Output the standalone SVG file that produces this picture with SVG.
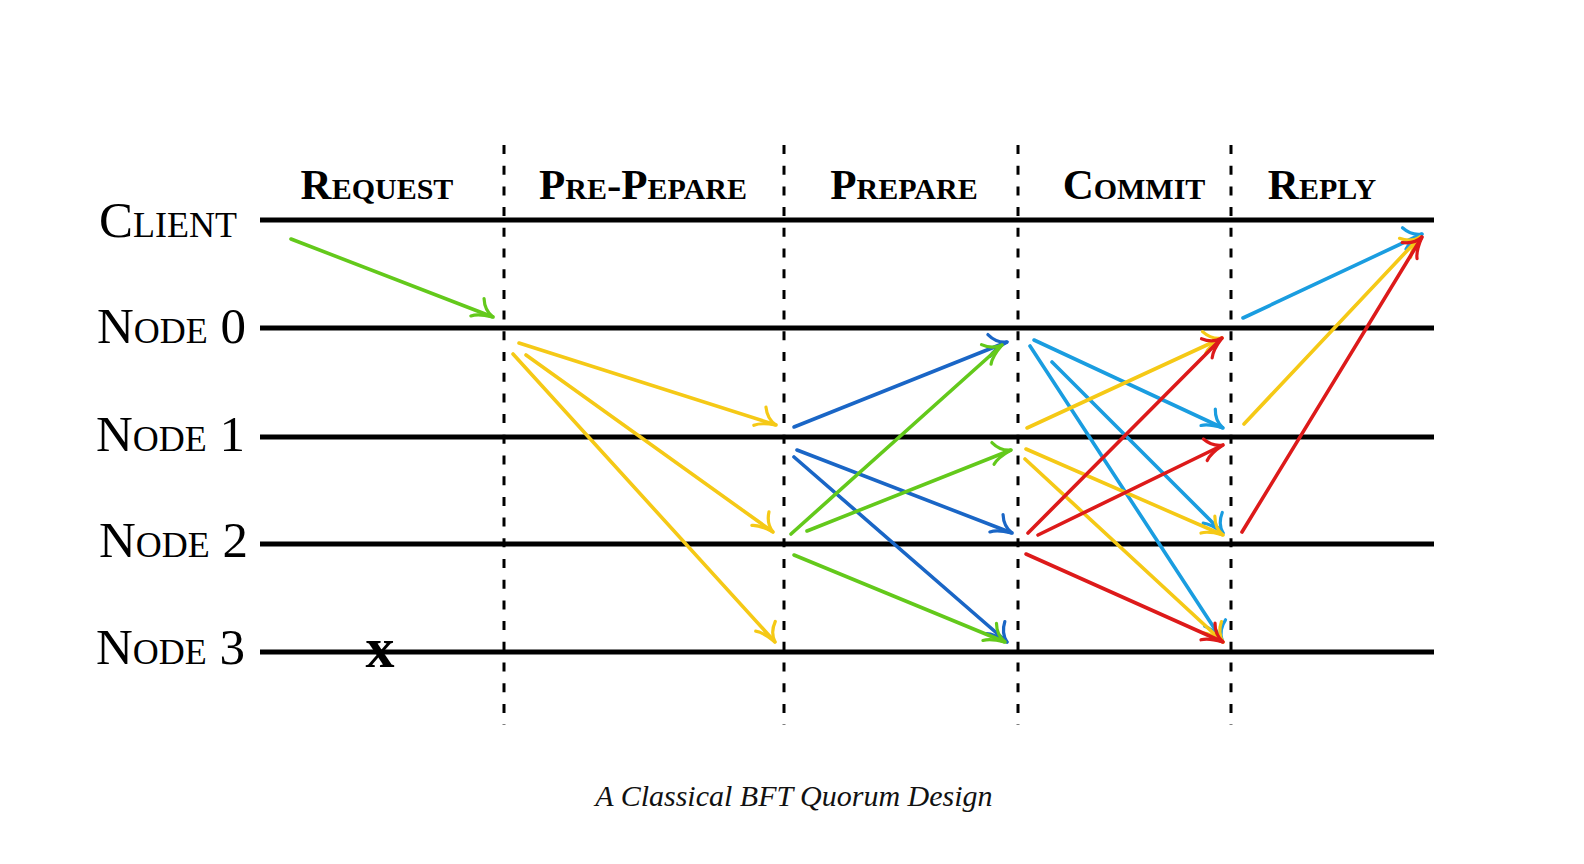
<svg xmlns="http://www.w3.org/2000/svg" width="1584" height="864" viewBox="0 0 1584 864">
<style>
.bg{fill:#ffffff}
.lane{stroke:#000;stroke-width:4.8;fill:none}
.phase{stroke:#000;stroke-width:3;stroke-dasharray:9 11.7;fill:none}
.hdr{font-family:"Liberation Serif",serif;font-weight:bold;font-variant:small-caps;font-size:43px;fill:#000;text-anchor:middle}
.lbl{font-family:"Liberation Serif",serif;font-variant:small-caps;font-size:51px;fill:#000}
.cap{font-family:"Liberation Serif",serif;font-style:italic;font-size:30px;fill:#111;text-anchor:middle}
.arr{fill:none;stroke-width:3.6;stroke-linecap:round}
.g{stroke:#63c91b;marker-end:url(#mg)}
.y{stroke:#f5c916;marker-end:url(#my)}
.db{stroke:#1a66c6;marker-end:url(#mdb)}
.lb{stroke:#1a9de0;marker-end:url(#mlb)}
.r{stroke:#dd1a1a;marker-end:url(#mr)}
.hd{fill:none;stroke-width:3.2;stroke-linecap:round}
</style>
<defs>
<path id="barb" d="M-15,-14 C-12,-7 -7,-2 0,0 C-7,1 -15,2 -21,7"/>
<marker id="mg" markerUnits="userSpaceOnUse" orient="auto" markerWidth="50" markerHeight="50" refX="0" refY="0" viewBox="-25 -25 50 50" overflow="visible"><use href="#barb" class="hd" stroke="#63c91b"/></marker>
<marker id="my" markerUnits="userSpaceOnUse" orient="auto" markerWidth="50" markerHeight="50" refX="0" refY="0" viewBox="-25 -25 50 50" overflow="visible"><use href="#barb" class="hd" stroke="#f5c916"/></marker>
<marker id="mdb" markerUnits="userSpaceOnUse" orient="auto" markerWidth="50" markerHeight="50" refX="0" refY="0" viewBox="-25 -25 50 50" overflow="visible"><use href="#barb" class="hd" stroke="#1a66c6"/></marker>
<marker id="mlb" markerUnits="userSpaceOnUse" orient="auto" markerWidth="50" markerHeight="50" refX="0" refY="0" viewBox="-25 -25 50 50" overflow="visible"><use href="#barb" class="hd" stroke="#1a9de0"/></marker>
<marker id="mr" markerUnits="userSpaceOnUse" orient="auto" markerWidth="50" markerHeight="50" refX="0" refY="0" viewBox="-25 -25 50 50" overflow="visible"><use href="#barb" class="hd" stroke="#dd1a1a"/></marker>
</defs>
<rect class="bg" x="0" y="0" width="1584" height="864"/>

<g id="phases">
<line class="phase" x1="504" y1="145" x2="504" y2="725"/>
<line class="phase" x1="784" y1="145" x2="784" y2="725"/>
<line class="phase" x1="1018" y1="145" x2="1018" y2="725"/>
<line class="phase" x1="1231" y1="145" x2="1231" y2="725"/>
</g>

<g id="headers">
<text class="hdr" x="377" y="199">Request</text>
<text class="hdr" x="643" y="199">Pre-Pepare</text>
<text class="hdr" x="904" y="199">Prepare</text>
<text class="hdr" x="1134" y="199">Commit</text>
<text class="hdr" x="1322" y="199">Reply</text>
</g>

<g id="client"><text class="lbl" x="99" y="237">Client</text><line class="lane" x1="260" y1="220" x2="1434" y2="220"/></g>
<g id="node0"><text class="lbl" x="97" y="343">Node 0</text><line class="lane" x1="260" y1="328" x2="1434" y2="328"/></g>
<g id="node1"><text class="lbl" x="96" y="451">Node 1</text><line class="lane" x1="260" y1="437" x2="1434" y2="437"/></g>
<g id="node2"><text class="lbl" x="99" y="557">Node 2</text><line class="lane" x1="260" y1="544" x2="1434" y2="544"/></g>
<g id="node3"><text class="lbl" x="96" y="664">Node 3</text><line class="lane" x1="260" y1="652" x2="1434" y2="652"/>
<text x="380" y="667" font-family="Liberation Serif, serif" font-weight="bold" font-size="58" text-anchor="middle" fill="#000">x</text></g>

<g id="connectors">
<line class="arr g" x1="291" y1="239" x2="493" y2="317"/>

<line class="arr y" x1="519" y1="343" x2="776" y2="425"/>
<line class="arr y" x1="526" y1="355" x2="773" y2="532"/>
<line class="arr y" x1="513" y1="354" x2="775" y2="642"/>

<line class="arr db" x1="794" y1="427" x2="1007" y2="342"/>
<line class="arr db" x1="797" y1="450" x2="1012" y2="533"/>
<line class="arr db" x1="794" y1="457" x2="1007" y2="642"/>
<line class="arr g" x1="791" y1="534" x2="1002" y2="345"/>
<line class="arr g" x1="807" y1="531" x2="1011" y2="450"/>
<line class="arr g" x1="794" y1="555" x2="1005" y2="642"/>

<line class="arr lb" x1="1034" y1="340" x2="1223" y2="428"/>
<line class="arr lb" x1="1030" y1="346" x2="1222" y2="640"/>
<line class="arr lb" x1="1052" y1="362" x2="1223" y2="533"/>
<line class="arr y" x1="1027" y1="428" x2="1222" y2="338"/>
<line class="arr y" x1="1026" y1="449" x2="1223" y2="535"/>
<line class="arr y" x1="1025" y1="459" x2="1223" y2="642"/>
<line class="arr r" x1="1028" y1="533" x2="1222" y2="338"/>
<line class="arr r" x1="1038" y1="535" x2="1223" y2="445"/>
<line class="arr r" x1="1026" y1="554" x2="1223" y2="642"/>

<line class="arr lb" x1="1243" y1="318" x2="1422" y2="234"/>
<line class="arr y" x1="1244" y1="424" x2="1420" y2="237"/>
<line class="arr r" x1="1242" y1="532" x2="1422" y2="237"/>
</g>

<text class="cap" x="794" y="806">A Classical BFT Quorum Design</text>
</svg>
